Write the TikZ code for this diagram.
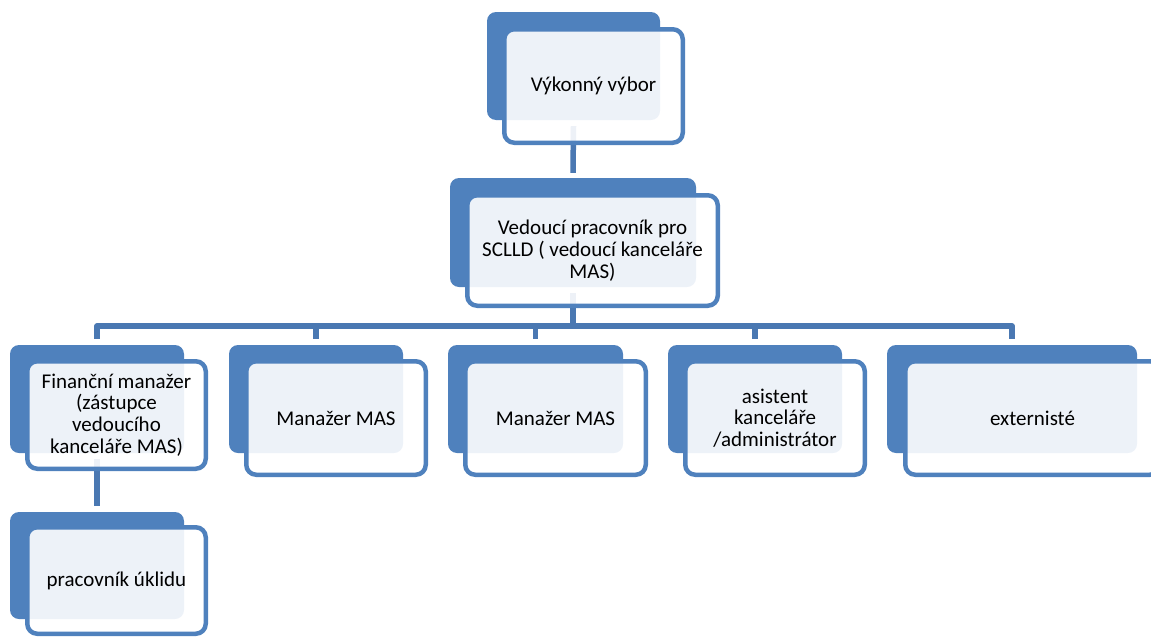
\documentclass[tikz,border=0pt]{standalone}
\usepackage{fontspec}
\setmainfont{Carlito}
\usetikzlibrary{backgrounds}
\definecolor{accblue}{HTML}{4F81BD}
\definecolor{connblue}{HTML}{4A78B2}
\tikzset{
  backbox/.style={fill=accblue, draw=none, rounded corners=9pt, inner sep=0pt},
  frontbox/.style={fill=white, fill opacity=0.9, text opacity=1, draw=accblue, draw opacity=1,
    line width=4.5pt, rounded corners=10pt, align=center, inner sep=0pt,
    font=\fontsize{21}{21.7}\selectfont},
  conn/.style={draw=connblue, line width=5.5pt, line join=round},
}
\begin{document}
\begin{tikzpicture}[x=1pt,y=-1pt]
\useasboundingbox (0,0) rectangle (1151,637);
\coordinate (bus) at (0,326);
% top
\node[backbox, minimum width=173pt, minimum height=108pt] (vbB) at (573.5,66) {};
\node[frontbox, minimum width=178.5pt, minimum height=113.5pt] (vb) at (593.5,86) {Výkonný výbor};
% second
\node[backbox, minimum width=246pt, minimum height=109pt] (vedB) at (573,232.5) {};
\node[frontbox, minimum width=250.5pt, minimum height=110.5pt] (ved) at (592.5,250.5) {Vedoucí pracovník pro\\SCLLD ( vedoucí kanceláře\\MAS)};
% third level
\node[backbox, minimum width=174pt, minimum height=108pt] (fmB) at (97,399) {};
\node[frontbox, minimum width=178.5pt, minimum height=107.5pt] (fm) at (116.5,415) {Finanční manažer\\(zástupce\\vedoucího\\kanceláře MAS)};
\node[backbox, minimum width=174pt, minimum height=108pt] (m1B) at (316,399) {};
\node[frontbox, minimum width=179.5pt, minimum height=113.5pt] (m1) at (336,418) {Manažer MAS};
\node[backbox, minimum width=175pt, minimum height=108pt] (m2B) at (535.5,399) {};
\node[frontbox, minimum width=180.5pt, minimum height=113.5pt] (m2) at (555.5,418) {Manažer MAS};
\node[backbox, minimum width=174pt, minimum height=108pt] (asB) at (755,399) {};
\node[frontbox, minimum width=179.5pt, minimum height=113.5pt] (as) at (775,418) {asistent\\kanceláře\\/administrátor};
\node[backbox, minimum width=250pt, minimum height=108pt] (exB) at (1012,399) {};
\node[frontbox, minimum width=254.5pt, minimum height=113.5pt] (ex) at (1032.5,418) {externisté};
% fourth
\node[backbox, minimum width=174pt, minimum height=107pt] (puB) at (97,565.5) {};
\node[frontbox, minimum width=178.5pt, minimum height=106.5pt] (pu) at (116.5,580.5) {pracovník úklidu};
% connectors
\begin{scope}[on background layer]
\draw[conn] ([yshift=-6pt]vbB.south) -- ([yshift=5pt]vedB.north);
\draw[conn] ([yshift=-6pt]vedB.south) -- (vedB.south |- bus);
\draw[conn] ([yshift=6pt]fmB.north) -- (fmB.north |- bus) -- (exB.north |- bus) -- ([yshift=6pt]exB.north);
\foreach \n in {m1B,m2B,asB} \draw[conn] (\n.north |- bus) -- ([yshift=6pt]\n.north);
\draw[conn] ([yshift=-6pt]fmB.south) -- ([yshift=6pt]puB.north);
\end{scope}
\end{tikzpicture}
\end{document}
